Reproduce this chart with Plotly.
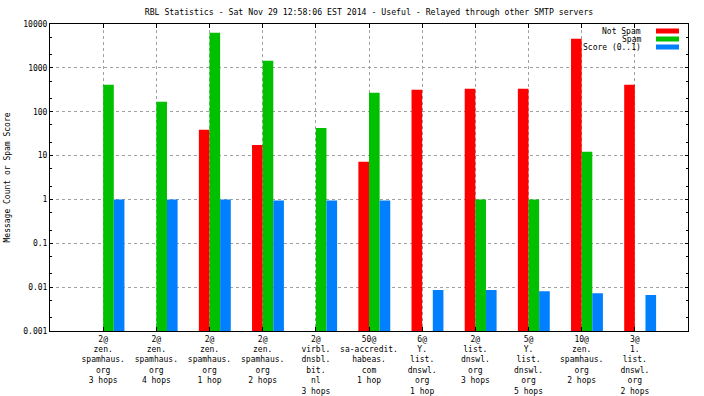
import plotly.graph_objects as go

categories = [
    "2@<br>zen.<br>spamhaus.<br>org<br>3 hops",
    "2@<br>zen.<br>spamhaus.<br>org<br>4 hops",
    "2@<br>zen.<br>spamhaus.<br>org<br>1 hop",
    "2@<br>zen.<br>spamhaus.<br>org<br>2 hops",
    "2@<br>virbl.<br>dnsbl.<br>bit.<br>nl<br>3 hops",
    "50@<br>sa-accredit.<br>habeas.<br>com<br>1 hop",
    "6@<br>Y.<br>list.<br>dnswl.<br>org<br>1 hop",
    "2@<br>list.<br>dnswl.<br>org<br>3 hops",
    "5@<br>Y.<br>list.<br>dnswl.<br>org<br>5 hops",
    "10@<br>zen.<br>spamhaus.<br>org<br>2 hops",
    "3@<br>1.<br>list.<br>dnswl.<br>org<br>2 hops",
]
positions = list(range(1, len(categories) + 1))

not_spam = [None, None, 38.6, 17.5, None, 7.2, 316, 333, 333, 4620, 411]
spam = [411, 168, 6300, 1452, 42.8, 270, None, 1, 1, 12.2, None]
score = [1.0, 1.0, 1.0, 0.95, 0.95, 0.95, 0.0086, 0.0086, 0.0081, 0.0073, 0.0066]

series_names = ["Not Spam", "Spam", "Score (0..1)"]
series_values = [not_spam, spam, score]
colors = ["#ff0000", "#00c000", "#0080ff"]
offsets = [-0.2, 0.0, 0.2]

ytickvals = [0.001, 0.01, 0.1, 1, 10, 100, 1000, 10000]
yticktext = ["0.001", "0.01", "0.1", "1", "10", "100", "1000", "10000"]

FONT = "DejaVu Sans Mono"

fig = go.Figure()
for name, vals, col, off in zip(series_names, series_values, colors, offsets):
    fig.add_trace(go.Bar(
        x=positions, y=vals, name=name, marker_color=col,
        marker_line_width=0, width=0.2, offset=off, showlegend=False,
    ))

# manual gnuplot-style legend (text right-aligned, swatch to its right)
for i, (name, col) in enumerate(zip(series_names, colors)):
    ypix = 31 + i * 8
    yp = 1 - (ypix - 24) / 307
    fig.add_annotation(
        xref="paper", yref="paper", x=(643 - 50) / 638, y=yp,
        text=name, showarrow=False, xanchor="right", yanchor="middle",
        font=dict(family=FONT, size=8, color="black"),
    )
    fig.add_shape(
        type="rect", xref="paper", yref="paper",
        x0=(656 - 50) / 638, x1=(679 - 50) / 638,
        y0=yp - 2.5 / 307, y1=yp + 2.5 / 307,
        fillcolor=col, line_width=0,
    )

# y-axis title placed like gnuplot's (near the left edge)
fig.add_annotation(
    xref="paper", yref="paper", x=-43 / 638, y=0.5, xanchor="center", yanchor="middle",
    text="Message Count or Spam Score", textangle=-90, showarrow=False,
    font=dict(family=FONT, size=8, color="black"),
)

fig.update_layout(
    width=704, height=396,
    margin=dict(l=50, r=16, t=24, b=65, autoexpand=False),
    paper_bgcolor="white", plot_bgcolor="white",
    barmode="overlay",
    font=dict(family=FONT, size=8, color="black"),
    title=dict(
        text="RBL Statistics - Sat Nov 29 12:58:06 EST 2014 - Useful - Relayed through other SMTP servers",
        x=369 / 704, xanchor="center", y=1 - 12 / 396, yanchor="middle",
        font=dict(family=FONT, size=8.2, color="black"),
    ),
    xaxis=dict(
        range=[0, 12], tickmode="array", tickvals=positions, ticktext=categories,
        showline=True, linecolor="black", linewidth=1, mirror="ticks",
        ticks="inside", ticklen=4, tickcolor="black", automargin=False,
        showgrid=True, gridcolor="#a0a0a0", griddash="3px,3px", gridwidth=1,
        zeroline=False, tickangle=0,
        tickfont=dict(family=FONT, size=8, color="black"),
    ),
    yaxis=dict(
        type="log", range=[-3, 4], tickmode="array", tickvals=ytickvals, ticktext=yticktext,
        showline=True, linecolor="black", linewidth=1, mirror="ticks",
        ticks="inside", ticklen=3, tickcolor="black", automargin=False,
        minor=dict(ticks="inside", ticklen=2, tickcolor="black", dtick="D2", showgrid=False),
        showgrid=True, gridcolor="#a0a0a0", griddash="3px,3px", gridwidth=1,
        zeroline=False,
        tickfont=dict(family=FONT, size=8, color="black"),
    ),
)

fig.write_html(
    "out.html",
    config={"displayModeBar": False},
    post_script="document.body.style.margin='0';document.body.style.overflow='hidden';",
)
